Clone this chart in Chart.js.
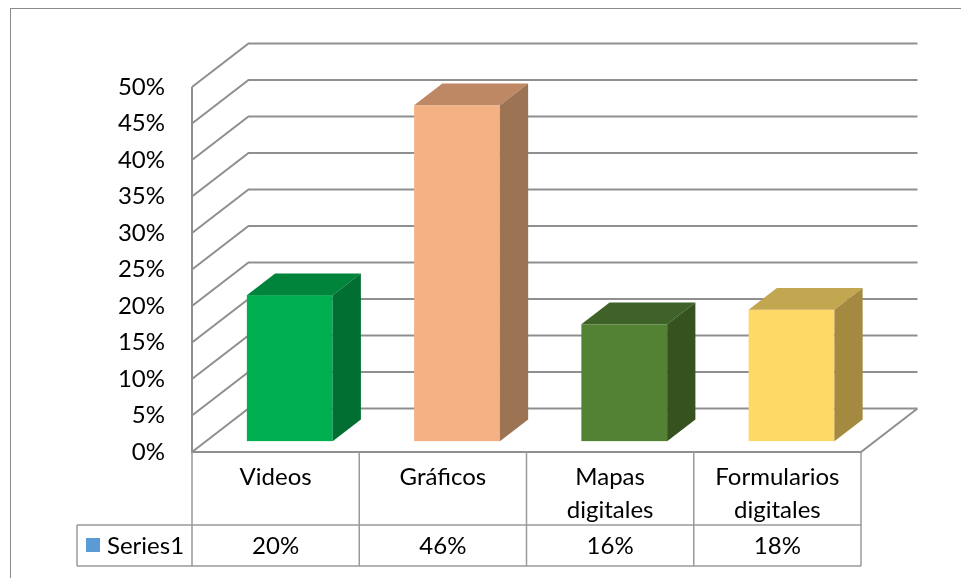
<!DOCTYPE html>
<html>
<head>
<meta charset="utf-8">
<script src="https://cdn.jsdelivr.net/npm/chart.js@4.4.1/dist/chart.umd.min.js"></script>
<style>
  html, body { margin: 0; padding: 0; background: #fff; }
  #wrap { width: 961px; height: 578px; }
</style>
</head>
<body>
<div id="wrap"><canvas id="chart" width="961" height="578"></canvas></div>
<script>
// values for the single series
const categories = [['Videos'], ['Gráficos'], ['Mapas', 'digitales'], ['Formularios', 'digitales']]
const seriesName = 'Series1'
const seriesValues = [0.20, 0.46, 0.16, 0.18]
const valueLabels = ['20%', '46%', '16%', '18%']

// one colour set per box: front, top, side
const frontColors = ['#00B050', '#F4B183', '#548235', '#FFD966']
const topColors = ['#00843B', '#BE8864', '#3F6229', '#C3A650']
const sideColors = ['#006F31', '#9C7353', '#36531F', '#A38A40']

const FONT = '24px Lato'
const DX = 56.5    // depth of the box, x
const DY = -43.5   // depth of the box, y
const gridColor = '#8f8f8f'
const tableColor = '#9a9a9a'

const threeD = {
  id: 'threeD',
  beforeDraw(chart) {
    const ctx = chart.ctx
    ctx.save()
    ctx.fillStyle = '#fff'
    ctx.fillRect(0, 0, chart.width, chart.height)
    ctx.strokeStyle = '#8a8a8a'
    ctx.lineWidth = 1
    ctx.strokeRect(10.5, 8.5, 970, 600)
    ctx.restore()
  },
  beforeDatasetsDraw(chart) {
    const ctx = chart.ctx
    const a = chart.chartArea
    const y = chart.scales.y
    ctx.save()
    ctx.strokeStyle = gridColor
    ctx.lineWidth = 2
    ctx.beginPath()
    y.ticks.forEach(t => {
      const yf = y.getPixelForValue(t.value)
      ctx.moveTo(a.left, yf)
      ctx.lineTo(a.left + DX, yf + DY)
      ctx.lineTo(a.right + DX, yf + DY)
    })
    // left front edge, floor front edge and right floor edge
    ctx.moveTo(a.left, a.top)
    ctx.lineTo(a.left, a.bottom)
    ctx.lineTo(a.right, a.bottom)
    ctx.lineTo(a.right + DX, a.bottom + DY)
    ctx.stroke()
    ctx.restore()
  },
  afterDatasetsDraw(chart) {
    const ctx = chart.ctx
    const a = chart.chartArea
    const y = chart.scales.y
    const meta = chart.getDatasetMeta(0)
    ctx.save()
    meta.data.forEach((bar, i) => {
      const w = bar.width
      const x0 = bar.x - w / 2 + DX * 0.25
      const x1 = x0 + w
      const base = y.getPixelForValue(0) + DY * 0.25
      const top = y.getPixelForValue(seriesValues[i]) + DY * 0.25
      const bx = DX * 0.5, by = DY * 0.5
      ctx.fillStyle = frontColors[i]
      ctx.fillRect(x0, top, w, base - top)
      ctx.fillStyle = topColors[i]
      ctx.beginPath()
      ctx.moveTo(x0, top)
      ctx.lineTo(x0 + bx, top + by)
      ctx.lineTo(x1 + bx, top + by)
      ctx.lineTo(x1, top)
      ctx.closePath()
      ctx.fill()
      ctx.fillStyle = sideColors[i]
      ctx.beginPath()
      ctx.moveTo(x1, top)
      ctx.lineTo(x1 + bx, top + by)
      ctx.lineTo(x1 + bx, base + by)
      ctx.lineTo(x1, base)
      ctx.closePath()
      ctx.fill()
    })

    // data table under the plot
    const x = chart.scales.x
    const rowTop = a.bottom
    const rowMid = 525
    const rowBot = 566
    const legendLeft = 77
    const colW = (a.right - a.left) / categories.length
    ctx.strokeStyle = tableColor
    ctx.lineWidth = 1.5
    ctx.beginPath()
    ctx.moveTo(legendLeft, rowMid); ctx.lineTo(a.right, rowMid)
    ctx.moveTo(legendLeft, rowBot); ctx.lineTo(a.right, rowBot)
    ctx.moveTo(legendLeft, rowMid); ctx.lineTo(legendLeft, rowBot)
    for (let i = 0; i <= categories.length; i++) {
      const cx = a.left + colW * i
      ctx.moveTo(cx, rowTop); ctx.lineTo(cx, rowBot)
    }
    ctx.stroke()

    ctx.fillStyle = '#000'
    ctx.font = FONT
    ctx.textAlign = 'center'
    ctx.textBaseline = 'middle'
    categories.forEach((lines, i) => {
      const cx = x.getPixelForValue(i)
      lines.forEach((ln, j) => ctx.fillText(ln, cx, 477 + j * 33))
      ctx.fillText(valueLabels[i], cx, 546)
    })
    ctx.fillStyle = '#5B9BD5'
    ctx.fillRect(86, 538, 14, 14)
    ctx.fillStyle = '#000'
    ctx.textAlign = 'left'
    ctx.fillText(seriesName, 107, 546)
    ctx.restore()
  }
}

new Chart(document.getElementById('chart'), {
  type: 'bar',
  data: {
    labels: categories,
    datasets: [{
      label: seriesName,
      data: seriesValues,
      backgroundColor: 'rgba(0,0,0,0)',
      barPercentage: 0.9,
      categoryPercentage: 0.57
    }]
  },
  options: {
    responsive: false,
    animation: false,
    events: [],
    layout: { padding: { left: 0, top: 87, right: 100, bottom: 126 } },
    plugins: { legend: { display: false }, tooltip: { enabled: false } },
    scales: {
      x: { display: false },
      y: {
        min: 0,
        max: 0.5,
        afterFit: (scale) => { scale.width = 192 },
        grid: { display: false, drawTicks: false },
        border: { display: false },
        ticks: {
          stepSize: 0.05,
          padding: 27,
          color: '#000',
          font: { family: 'Lato', size: 24 },
          callback: v => Math.round(v * 100) + '%'
        }
      }
    }
  },
  plugins: [threeD]
})
</script>
</body>
</html>
